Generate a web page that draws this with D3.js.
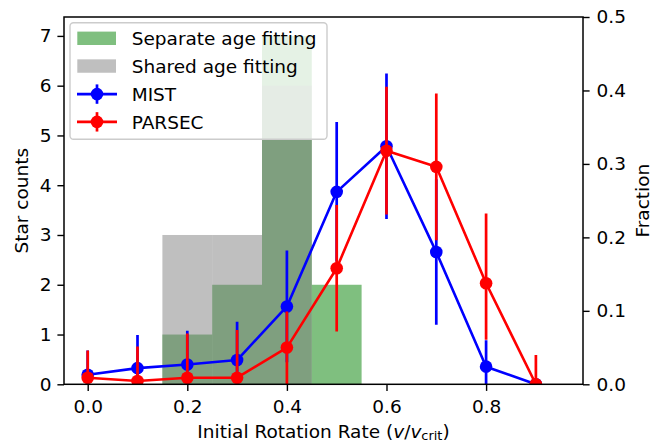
<!DOCTYPE html>
<html>
<head>
<meta charset="utf-8">
<script src="https://cdn.jsdelivr.net/npm/d3@7"></script>
<style>
	body { margin: 0; background: #fff; }
	svg { font-family: "DejaVu Sans", sans-serif; }
</style>
</head>
<body>
<div id="chart"></div>
<script>
// histogram of star counts (initial rotation rate bins)
var binEdges = [0.15, 0.25, 0.35, 0.45, 0.55];
var separateCounts = [1, 2, 7, 2];
var sharedCounts = [3, 3, 6, 0];

// fraction curves
var rates = [0.0, 0.1, 0.2, 0.3, 0.4, 0.5, 0.6, 0.7, 0.8, 0.9];
var mistFrac = [0.013, 0.022, 0.027, 0.033, 0.106, 0.262, 0.324, 0.180, 0.024, 0.0];
var mistErrLow = [0.013, 0.022, 0.027, 0.033, 0.076, 0.095, 0.099, 0.099, 0.024, 0.0];
var mistErrHigh = [0.033, 0.045, 0.046, 0.052, 0.076, 0.095, 0.099, 0.099, 0.036, 0.0];
var parsecFrac = [0.009, 0.0045, 0.009, 0.009, 0.050, 0.158, 0.318, 0.296, 0.1375, 0.0];
var parsecErrLow = [0.009, 0.0045, 0.009, 0.009, 0.050, 0.086, 0.087, 0.100, 0.077, 0.0];
var parsecErrHigh = [0.037, 0.047, 0.060, 0.065, 0.049, 0.086, 0.087, 0.100, 0.095, 0.040];

// ticks
var rateTicks = [0.0, 0.2, 0.4, 0.6, 0.8];
var countTicks = [0, 1, 2, 3, 4, 5, 6, 7];
var fracTicks = [0.0, 0.1, 0.2, 0.3, 0.4, 0.5];

var legendLabels = ["Separate age fitting", "Shared age fitting", "MIST", "PARSEC"];

var fontSize = 18.5;
var W = 659, H = 443;
// plot box (note: "top" is reserved on window, so use px* names)
var pxL = 64, pxR = 583, pxT = 17, pxB = 384.3;

var x = d3.scaleLinear().domain([-0.0476, 0.9946]).range([pxL, pxR]);
var yCount = d3.scaleLinear().domain([0, 7.38]).range([pxB, pxT]);
var yFrac = d3.scaleLinear().domain([0, 0.5]).range([pxB, pxT]);

var svg = d3.select("#chart").append("svg")
	.attr("width", W)
	.attr("height", H);

svg.append("defs").append("clipPath")
	.attr("id", "plotclip")
	.append("rect")
	.attr("x", pxL).attr("y", pxT)
	.attr("width", pxR - pxL).attr("height", pxB - pxT);

var plot = svg.append("g").attr("clip-path", "url(#plotclip)");

// bars: green first, grey on top
function drawHist(counts, color) {
	plot.append("g").selectAll("rect")
		.data(counts.map(function (c, i) { return { x0: binEdges[i], x1: binEdges[i + 1], n: c }; })
			.filter(function (d) { return d.n > 0; }))
		.enter().append("rect")
		.attr("x", function (d) { return x(d.x0); })
		.attr("width", function (d) { return x(d.x1) - x(d.x0); })
		.attr("y", function (d) { return yCount(d.n); })
		.attr("height", function (d) { return yCount(0) - yCount(d.n); })
		.style("fill", color)
		.style("fill-opacity", 0.5);
}
drawHist(separateCounts, "#008000");
drawHist(sharedCounts, "#808080");

function drawSeries(vals, lo, hi, color) {
	var pts = rates.map(function (r, i) {
		return { x: r, y: vals[i], lo: vals[i] - lo[i], hi: vals[i] + hi[i] };
	});
	var g = plot.append("g");
	g.selectAll(".err")
		.data(pts)
		.enter().append("line")
		.attr("x1", function (d) { return x(d.x); })
		.attr("x2", function (d) { return x(d.x); })
		.attr("y1", function (d) { return yFrac(d.lo); })
		.attr("y2", function (d) { return yFrac(d.hi); })
		.style("stroke", color)
		.style("stroke-width", 2.7);
	g.append("path")
		.datum(pts)
		.attr("d", d3.line()
			.x(function (d) { return x(d.x); })
			.y(function (d) { return yFrac(d.y); }))
		.style("fill", "none")
		.style("stroke", color)
		.style("stroke-width", 2.6)
		.style("stroke-linejoin", "round");
	g.selectAll("circle")
		.data(pts)
		.enter().append("circle")
		.attr("cx", function (d) { return x(d.x); })
		.attr("cy", function (d) { return yFrac(d.y); })
		.attr("r", 6.3)
		.style("fill", color);
}
drawSeries(mistFrac, mistErrLow, mistErrHigh, "#0000ff");
drawSeries(parsecFrac, parsecErrLow, parsecErrHigh, "#ff0000");

// axes
function styleAxis(g) {
	g.select(".domain").remove();
	g.selectAll(".tick line").style("stroke", "#000").style("stroke-width", 1.4);
	g.selectAll("text").style("font-size", fontSize + "px").style("fill", "#000")
		.style("font-family", "'DejaVu Sans', sans-serif");
}

svg.append("g")
	.attr("transform", "translate(0," + pxB + ")")
	.call(d3.axisBottom(x).tickValues(rateTicks).tickFormat(d3.format(".1f"))
		.tickSizeOuter(0).tickSize(6.6).tickPadding(9.3))
	.call(styleAxis);

svg.append("g")
	.attr("transform", "translate(" + pxL + ",0)")
	.call(d3.axisLeft(yCount).tickValues(countTicks).tickFormat(d3.format("d"))
		.tickSizeOuter(0).tickSize(6.6).tickPadding(6))
	.call(styleAxis);

svg.append("g")
	.attr("transform", "translate(" + pxR + ",0)")
	.call(d3.axisRight(yFrac).tickValues(fracTicks).tickFormat(d3.format(".1f"))
		.tickSizeOuter(0).tickSize(6.6).tickPadding(7))
	.call(styleAxis);

// frame
svg.append("rect")
	.attr("x", pxL).attr("y", pxT)
	.attr("width", pxR - pxL).attr("height", pxB - pxT)
	.style("fill", "none")
	.style("stroke", "#000")
	.style("stroke-width", 1.5);

// axis labels
var xlab = svg.append("text")
	.attr("x", (pxL + pxR) / 2)
	.attr("y", 437.5)
	.attr("text-anchor", "middle")
	.style("font-size", fontSize + "px");
xlab.append("tspan").text("Initial Rotation Rate (");
xlab.append("tspan").style("font-style", "italic").text("v");
xlab.append("tspan").text("/");
xlab.append("tspan").style("font-style", "italic").text("v");
xlab.append("tspan").attr("dy", 2.4).style("font-size", (fontSize * 0.7) + "px").text("crit");
xlab.append("tspan").attr("dy", -2.4).text(")");

svg.append("text")
	.attr("transform", "translate(28.3," + ((pxT + pxB) / 2) + ") rotate(-90)")
	.attr("text-anchor", "middle")
	.style("font-size", fontSize + "px")
	.text("Star counts");

svg.append("text")
	.attr("transform", "translate(649.3," + ((pxT + pxB) / 2) + ") rotate(-90)")
	.attr("text-anchor", "middle")
	.style("font-size", fontSize + "px")
	.text("Fraction");

// legend
var legend = svg.append("g");
legend.append("rect")
	.attr("x", 70).attr("y", 22.7)
	.attr("width", 257).attr("height", 116.6)
	.attr("rx", 3.5)
	.style("fill", "#fff")
	.style("fill-opacity", 0.8)
	.style("stroke", "#cccccc")
	.style("stroke-width", 1.4);

var legendColors = ["#008000", "#808080", "#0000ff", "#ff0000"];
var items = legend.selectAll(".item")
	.data(legendLabels)
	.enter().append("g")
	.attr("transform", function (d, i) { return "translate(0," + (45.3 + i * 27.75) + ")"; });

items.each(function (d, i) {
	var it = d3.select(this);
	if (i < 2) {
		it.append("rect")
			.attr("x", 77.3).attr("y", -13.7)
			.attr("width", 38.7).attr("height", 13.4)
			.style("fill", legendColors[i])
			.style("fill-opacity", 0.5);
	} else {
		it.append("line")
			.attr("x1", 77).attr("x2", 117).attr("y1", -6.7).attr("y2", -6.7)
			.style("stroke", legendColors[i]).style("stroke-width", 2.6);
		it.append("line")
			.attr("x1", 97).attr("x2", 97).attr("y1", -16.4).attr("y2", 3)
			.style("stroke", legendColors[i]).style("stroke-width", 2.7);
		it.append("circle")
			.attr("cx", 97).attr("cy", -6.7).attr("r", 6.3)
			.style("fill", legendColors[i]);
	}
	it.append("text")
		.attr("x", 131.7).attr("y", 0)
		.style("font-size", fontSize + "px")
		.text(d);
});
</script>
</body>
</html>
